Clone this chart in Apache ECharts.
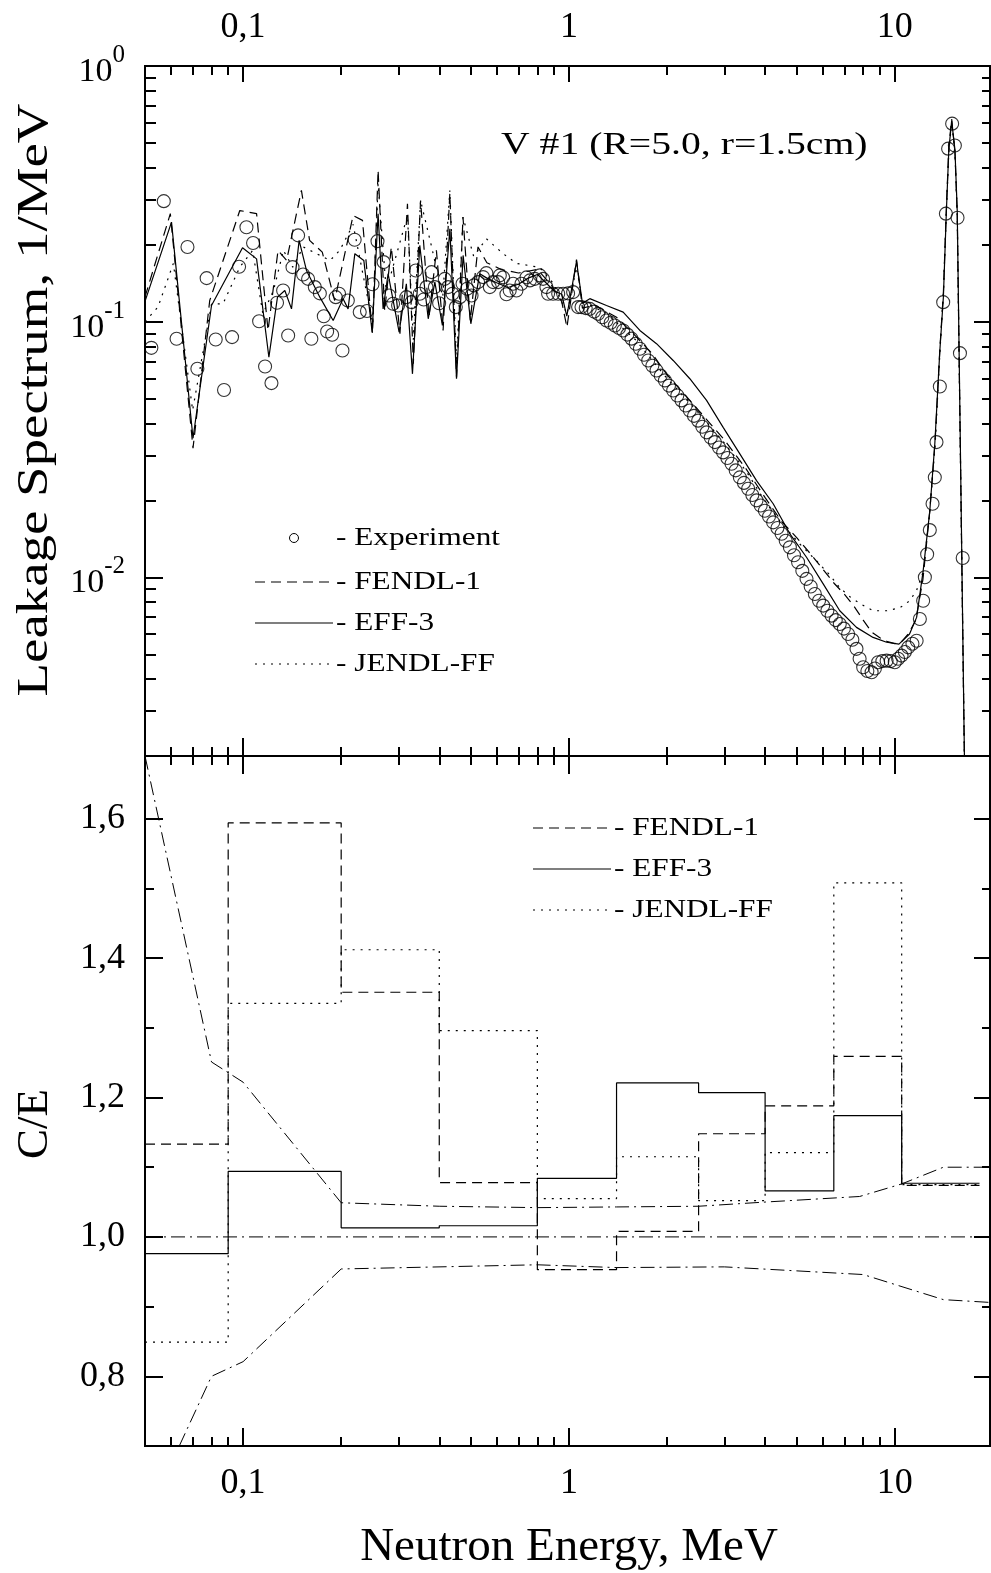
<!DOCTYPE html>
<html>
<head>
<meta charset="utf-8">
<script src="https://cdn.jsdelivr.net/npm/echarts@6/dist/echarts.min.js"></script>
<style>
html, body { margin: 0; padding: 0; background: #fff; }
#chart { width: 991px; height: 1573px; }
</style>
</head>
<body>
<div id="chart"></div>
<script>
// ---- top panel: leakage spectrum ----
var expE = [0.0523, 0.0571, 0.0625, 0.0675, 0.0724, 0.0773, 0.0824, 0.0874, 0.0925, 0.0972,
  0.1024, 0.1073, 0.112, 0.1168, 0.1222, 0.1271, 0.1327, 0.1375, 0.1418, 0.1475,
  0.1528, 0.1583, 0.162, 0.166, 0.172, 0.1769, 0.1811, 0.1876, 0.1925, 0.197,
  0.2018, 0.2096, 0.22, 0.228, 0.24, 0.2495, 0.2585, 0.27, 0.2806, 0.2886,
  0.299, 0.317, 0.3287, 0.3388, 0.3485, 0.3585, 0.3654, 0.3788, 0.3877, 0.3996,
  0.416, 0.4258, 0.4393, 0.4496, 0.4626, 0.4715, 0.487, 0.5025, 0.5107, 0.5263,
  0.545, 0.558, 0.5716, 0.5852, 0.6063, 0.6136, 0.628, 0.643, 0.658, 0.674,
  0.69, 0.715, 0.741, 0.759, 0.786, 0.814, 0.833, 0.853, 0.863, 0.894,
  0.927, 0.96, 0.994, 1.03, 1.067,
  1.093, 1.126, 1.159, 1.194, 1.229, 1.266, 1.304, 1.343, 1.383, 1.425,
  1.467, 1.511, 1.556, 1.603, 1.651, 1.70, 1.751, 1.803, 1.857, 1.913,
  1.97, 2.028, 2.089, 2.151, 2.216, 2.282, 2.35, 2.42, 2.492, 2.567,
  2.645, 2.724, 2.805, 2.888, 2.974, 3.063, 3.155, 3.249, 3.346, 3.445,
  3.548, 3.655, 3.765, 3.877, 3.993, 4.112, 4.235, 4.363, 4.494, 4.627,
  4.765, 4.906, 5.05, 5.203, 5.36, 5.52, 5.685, 5.855, 6.03, 6.21,
  6.40, 6.59, 6.78, 6.98, 7.19, 7.41, 7.63, 7.8, 8.0, 8.24,
  8.49, 8.69, 8.89, 9.16, 9.44, 9.72, 10.0, 10.24, 10.49, 10.74,
  11.0, 11.33, 11.67, 11.94, 12.22, 12.37, 12.57, 12.81, 13.06, 13.27,
  13.43, 13.75, 14.08, 14.35, 14.58, 15.0, 15.29, 15.58, 15.85, 16.16];
var expV = [0.079, 0.296, 0.0857, 0.196, 0.0654, 0.148, 0.0852, 0.054, 0.087, 0.164,
  0.234, 0.203, 0.1004, 0.0668, 0.0575, 0.1186, 0.1324, 0.0883, 0.1634, 0.2175,
  0.153, 0.147, 0.0857, 0.1365, 0.129, 0.105, 0.0915, 0.0889, 0.1247, 0.1286,
  0.0771, 0.121, 0.209, 0.109, 0.11, 0.14, 0.2065, 0.171, 0.1266, 0.1175,
  0.1157, 0.1247, 0.1192, 0.1586, 0.1286, 0.122, 0.1365, 0.1562, 0.1365, 0.118,
  0.147, 0.1365, 0.1286, 0.114, 0.1247, 0.1407, 0.1345, 0.1266, 0.1386, 0.1428,
  0.1494, 0.1548, 0.1365, 0.1428, 0.1428, 0.1517, 0.149, 0.128, 0.1324, 0.1407,
  0.1324, 0.1407, 0.149, 0.145, 0.147, 0.1517, 0.147, 0.1365, 0.1286, 0.1286,
  0.1286, 0.1286, 0.129, 0.1305, 0.114,
  0.114, 0.113, 0.1122, 0.1095, 0.1073, 0.104, 0.101, 0.099, 0.0966, 0.0945,
  0.0924, 0.089, 0.0858, 0.082, 0.0783, 0.0742, 0.0705, 0.0672, 0.0644, 0.0615,
  0.0589, 0.0562, 0.0538, 0.0514, 0.0492, 0.047, 0.0449, 0.0428, 0.041, 0.0388,
  0.0369, 0.0352, 0.0338, 0.0322, 0.0308, 0.0293, 0.0278, 0.0262, 0.0246, 0.0234,
  0.0222, 0.021, 0.020, 0.0191, 0.0182, 0.0173, 0.0164, 0.0156, 0.0148, 0.0139,
  0.0131, 0.0122, 0.01145, 0.0106, 0.00986, 0.0092, 0.0086, 0.0081, 0.00775, 0.0074,
  0.00708, 0.0068, 0.00657, 0.0063, 0.006, 0.0057, 0.00525, 0.0048, 0.00445, 0.0043,
  0.00425, 0.0044, 0.00465, 0.0047, 0.00472, 0.0047, 0.00465, 0.0048, 0.00494, 0.0051,
  0.00532, 0.0055, 0.00565, 0.00687, 0.0081, 0.01, 0.0123, 0.0153, 0.0194, 0.0246,
  0.0338, 0.0558, 0.1192, 0.2645, 0.475, 0.595, 0.489, 0.255, 0.0753, 0.0119];

var effE = [0.05, 0.0603, 0.0702, 0.08, 0.0996, 0.11, 0.12, 0.1275, 0.1343, 0.1408,
  0.1486, 0.1565, 0.172, 0.189, 0.2027, 0.21, 0.2203, 0.2347, 0.249, 0.2596,
  0.269, 0.2786, 0.3012, 0.317, 0.331, 0.3485, 0.370, 0.3877, 0.409, 0.4311,
  0.4518, 0.4734, 0.500, 0.5325, 0.56, 0.6, 0.65, 0.7, 0.75, 0.8,
  0.85, 0.9, 0.95, 0.985, 1.055, 1.1, 1.159, 1.304, 1.467, 1.651,
  1.857, 2.089, 2.35, 2.645, 2.974, 3.346, 3.765, 4.235, 4.765, 5.36,
  6.03, 6.78, 7.63, 8.58, 9.44, 10.3, 11.1, 11.67, 12.22, 12.81,
  13.27, 13.75, 14.1, 14.4, 14.65, 14.95, 15.3, 15.55, 15.9, 16.3, 16.45];
var effV = [0.12, 0.245, 0.035, 0.1157, 0.1946, 0.176, 0.0726, 0.1247, 0.1324, 0.1122,
  0.208, 0.1586, 0.1247, 0.101, 0.123, 0.1122, 0.1845, 0.1736, 0.091, 0.2645,
  0.1122, 0.154, 0.091, 0.1407, 0.0625, 0.1987, 0.1026, 0.1428, 0.0966, 0.231,
  0.0598, 0.1816, 0.0981, 0.154, 0.148, 0.142, 0.136, 0.14, 0.148, 0.153,
  0.142, 0.132, 0.128, 0.105, 0.172, 0.118, 0.123, 0.1157, 0.109, 0.0924,
  0.082, 0.0705, 0.0598, 0.0492, 0.0386, 0.0304, 0.0239, 0.0194, 0.0148, 0.01198,
  0.00942, 0.0074, 0.00637, 0.00582, 0.00557, 0.00548, 0.006, 0.00697, 0.0106, 0.0182,
  0.0333, 0.077, 0.125, 0.27, 0.47, 0.61, 0.47, 0.27, 0.032, 0.0028, 0.0012];

var fendlE = [0.05, 0.0598, 0.0702, 0.079, 0.0977, 0.11, 0.1193, 0.128, 0.136, 0.151,
  0.160, 0.175, 0.191, 0.2176, 0.2325, 0.2495, 0.2596, 0.272, 0.285, 0.303,
  0.3195, 0.333, 0.3505, 0.372, 0.392, 0.411, 0.431, 0.452, 0.473, 0.498,
  0.526, 0.56, 0.62, 0.7, 0.8, 0.88, 0.95, 0.986, 1.055, 1.1,
  1.2, 1.4, 1.6, 1.8, 2.0, 2.5, 3.0, 3.5, 4.0, 4.5,
  5.0, 5.5, 6.0, 6.5, 7.0, 7.5, 8.0, 8.5, 9.0, 9.5,
  10.0, 10.5, 11.0, 11.6, 12.2, 12.8, 13.3, 13.75, 14.1, 14.4,
  14.65, 14.95, 15.3, 15.55, 15.9, 16.3, 16.45];
var fendlV = [0.125, 0.2645, 0.032, 0.121, 0.272, 0.2645, 0.0924, 0.19, 0.1736, 0.326,
  0.208, 0.187, 0.121, 0.26, 0.249, 0.0897, 0.391, 0.11, 0.196, 0.0897,
  0.289, 0.0685, 0.298, 0.104, 0.19, 0.0924, 0.317, 0.0606, 0.2565, 0.101,
  0.196, 0.17, 0.16, 0.155, 0.16, 0.14, 0.12, 0.095, 0.175, 0.113,
  0.116, 0.104, 0.088, 0.075, 0.062, 0.045, 0.0345, 0.0265, 0.0205, 0.0165,
  0.0143, 0.0124, 0.0108, 0.0095, 0.0086, 0.0077, 0.0068, 0.0061, 0.0058, 0.0056,
  0.0055, 0.0056, 0.006, 0.0068, 0.0098, 0.018, 0.034, 0.078, 0.13, 0.28,
  0.48, 0.62, 0.46, 0.26, 0.03, 0.0027, 0.0012];

var jendlE = [0.05, 0.0548, 0.0611, 0.07, 0.08, 0.0868, 0.0977, 0.107, 0.115, 0.124,
  0.133, 0.142, 0.153, 0.168, 0.185, 0.198, 0.2176, 0.25, 0.2596, 0.275,
  0.3195, 0.333, 0.3505, 0.379, 0.41, 0.431, 0.452, 0.473, 0.51, 0.558,
  0.628, 0.69, 0.814, 0.9, 0.986, 1.055, 1.1, 1.3, 1.6, 2.0,
  2.5, 3.0, 3.5, 4.0, 4.5, 5.11, 5.75, 6.32, 6.78, 7.28,
  7.81, 8.59, 9.44, 10.37, 11.12, 11.67, 12.22, 12.8, 13.3, 13.75,
  14.1, 14.4, 14.65, 14.95, 15.3, 15.55, 15.9, 16.3, 16.45];
var jendlV = [0.1, 0.114, 0.169, 0.045, 0.117, 0.1175, 0.1634, 0.19, 0.1073, 0.1324,
  0.19, 0.1634, 0.196, 0.1845, 0.1736, 0.19, 0.24, 0.098, 0.346, 0.132,
  0.26, 0.085, 0.298, 0.196, 0.125, 0.326, 0.0685, 0.2565, 0.18, 0.211,
  0.1845, 0.169, 0.163, 0.14, 0.107, 0.163, 0.12, 0.108, 0.085, 0.06,
  0.044, 0.0335, 0.026, 0.0198, 0.0162, 0.0135, 0.0116, 0.0102, 0.0091, 0.0084,
  0.0079, 0.0074, 0.0074, 0.0076, 0.0081, 0.0089, 0.0105, 0.018, 0.033, 0.075,
  0.13, 0.27, 0.46, 0.6, 0.46, 0.26, 0.03, 0.0028, 0.0012];

// ---- bottom panel: C/E ratios in energy groups ----
var binEdges = [0.05, 0.09, 0.2, 0.4, 0.8, 1.4, 2.5, 4, 6.5, 10.5, 18.2];
var ceFendl = [1.133, 1.594, 1.351, 1.078, 0.953, 1.008, 1.148, 1.188, 1.259, 1.074];
var ceEff   = [0.976, 1.094, 1.013, 1.016, 1.084, 1.221, 1.207, 1.066, 1.174, 1.077];
var ceJendl = [0.849, 1.335, 1.412, 1.296, 1.055, 1.115, 1.052, 1.121, 1.508, 1.075];

var errHiE = [0.05, 0.08, 0.1, 0.2, 0.4, 0.8, 1.4, 2.5, 4, 7.8, 10.5, 14.1, 19.6];
var errHiV = [1.69, 1.251, 1.222, 1.049, 1.044, 1.042, 1.043, 1.044, 1.05, 1.058, 1.076, 1.1, 1.1];
var errLoE = [0.0637, 0.08, 0.1, 0.2, 0.8, 1.4, 3.0, 8.0, 14.1, 19.6];
var errLoV = [0.70, 0.8, 0.821, 0.954, 0.96, 0.956, 0.957, 0.946, 0.91, 0.906];
var unityE = [0.05, 19.6];
var unityV = [1.0, 1.0];

// ---- ticks ----
var xMajor = [0.1, 1, 10];
var xLabels = ['0,1', '1', '10'];
var xMinor = [0.06, 0.07, 0.08, 0.09, 0.2, 0.3, 0.4, 0.5, 0.6, 0.7, 0.8, 0.9, 2, 3, 4, 5, 6, 7, 8, 9];
var yTopMajor = [0.01, 0.1, 1];
var yTopExp = ['-2', '-1', '0'];
var yTopMinor = [0.003, 0.004, 0.005, 0.006, 0.007, 0.008, 0.009,
  0.02, 0.03, 0.04, 0.05, 0.06, 0.07, 0.08, 0.09,
  0.2, 0.3, 0.4, 0.5, 0.6, 0.7, 0.8, 0.9];
var yBotMajor = [0.8, 1.0, 1.2, 1.4, 1.6];
var yBotLabels = ['0,8', '1,0', '1,2', '1,4', '1,6'];
var yBotMinor = [0.9, 1.1, 1.3, 1.5];

var FONT = '"Liberation Serif", "Times New Roman", serif';

function pairs(xs, ys) {
    return xs.map(function (x, i) { return [x, ys[i]]; });
}
function steps(edges, vals) {
    var d = vals.map(function (v, i) { return [edges[i], v]; });
    d.push([edges[edges.length - 1], vals[vals.length - 1]]);
    return d;
}
function findIdx(list, v) {
    for (var i = 0; i < list.length; i++) {
        if (Math.abs(list[i] - v) < 1e-6 * Math.max(1, list[i])) return i;
    }
    return -1;
}

function xAx(grid, pos, ticks, len, label) {
    return {
        type: 'log', logBase: 10, gridIndex: grid, position: pos,
        min: 0.05, max: 19.6,
        axisLine: { show: true, onZero: false, lineStyle: { color: '#000', width: 2 } },
        axisTick: { show: true, inside: true, length: len, customValues: ticks,
            lineStyle: { color: '#000', width: 2 } },
        axisLabel: label ? {
            show: true, customValues: xMajor, margin: 20,
            fontFamily: FONT, fontSize: 36, color: '#000',
            formatter: function (v) { var i = findIdx(xMajor, v); return i >= 0 ? xLabels[i] : ''; }
        } : { show: false },
        splitLine: { show: false }
    };
}
function yTopAx(pos, ticks, len, label) {
    return {
        type: 'log', logBase: 10, gridIndex: 0, position: pos,
        min: 0.002, max: 1,
        axisLine: { show: true, onZero: false, lineStyle: { color: '#000', width: 2 } },
        axisTick: { show: true, inside: true, length: len, customValues: ticks,
            lineStyle: { color: '#000', width: 2 } },
        axisLabel: label ? {
            show: true, customValues: yTopMajor, margin: 20, color: '#000',
            formatter: function (v) {
                var i = findIdx(yTopMajor, v);
                return i >= 0 ? '{b|10}{s|' + yTopExp[i] + '}' : '';
            },
            rich: {
                b: { fontFamily: FONT, fontSize: 34, lineHeight: 46, verticalAlign: 'bottom', color: '#000' },
                s: { fontFamily: FONT, fontSize: 25, lineHeight: 32, verticalAlign: 'top', color: '#000' }
            }
        } : { show: false },
        splitLine: { show: false }
    };
}
function yBotAx(pos, ticks, len, label) {
    return {
        type: 'value', gridIndex: 1, position: pos,
        min: 0.7, max: 1.69,
        axisLine: { show: true, onZero: false, lineStyle: { color: '#000', width: 2 } },
        axisTick: { show: true, inside: true, length: len, customValues: ticks,
            lineStyle: { color: '#000', width: 2 } },
        axisLabel: label ? {
            show: true, customValues: yBotMajor, margin: 20,
            fontFamily: FONT, fontSize: 36, color: '#000',
            formatter: function (v) { var i = findIdx(yBotMajor, v); return i >= 0 ? yBotLabels[i] : ''; }
        } : { show: false },
        splitLine: { show: false }
    };
}

function curve(name, xi, yi, data, dash) {
    return {
        name: name, type: 'line', xAxisIndex: xi, yAxisIndex: yi,
        data: data, symbol: 'none', animation: false,
        lineStyle: { color: '#000', width: 1.2, type: dash }
    };
}
function histo(name, vals, dash) {
    var s = curve(name, 6, 4, steps(binEdges, vals), dash);
    s.step = 'end';
    return s;
}
function band(name, data) {
    var s = curve(name, 6, 4, data, [14, 5, 2, 5]);
    s.lineStyle.width = 1;
    return s;
}

var DASH = [10, 6], DOT = [2, 6];
var LEG_FONT = '25px ' + FONT;

function legText(x, y, txt) {
    return { type: 'text', x: x, y: y, scaleX: 1.25,
        style: { text: txt, font: LEG_FONT, fill: '#000', align: 'left', verticalAlign: 'middle',
                 textAlign: 'left', textVerticalAlign: 'middle' } };
}
function legLine(x1, x2, y, dash) {
    return { type: 'line', shape: { x1: x1, y1: y, x2: x2, y2: y },
        style: { stroke: '#000', lineWidth: 1.2, lineDash: dash || null } };
}

var chart = echarts.init(document.getElementById('chart'));
var option = {
    backgroundColor: '#fff',
    animation: false,
    grid: [
        { left: 145, top: 66, width: 845, height: 690 },
        { left: 145, top: 756, width: 845, height: 690 }
    ],
    xAxis: [
        xAx(0, 'top', xMajor, 16, true),
        xAx(0, 'top', xMinor, 9, false),
        xAx(0, 'bottom', xMajor, 18, false),
        xAx(0, 'bottom', xMinor, 9, false),
        xAx(1, 'top', xMajor, 18, false),
        xAx(1, 'top', xMinor, 9, false),
        xAx(1, 'bottom', xMajor, 18, true),
        xAx(1, 'bottom', xMinor, 9, false)
    ],
    yAxis: [
        yTopAx('left', yTopMajor, 18, true),
        yTopAx('left', yTopMinor, 11, false),
        yTopAx('right', yTopMajor, 16, false),
        yTopAx('right', yTopMinor, 8, false),
        yBotAx('left', yBotMajor, 18, true),
        yBotAx('left', yBotMinor, 9, false),
        yBotAx('right', yBotMajor, 16, false),
        yBotAx('right', yBotMinor, 8, false)
    ],
    series: [
        curve('FENDL-1', 0, 0, pairs(fendlE, fendlV), DASH),
        curve('EFF-3', 0, 0, pairs(effE, effV), 'solid'),
        curve('JENDL-FF', 0, 0, pairs(jendlE, jendlV), DOT),
        {
            name: 'Experiment', type: 'scatter', xAxisIndex: 0, yAxisIndex: 0,
            data: pairs(expE, expV), symbol: 'circle', symbolSize: 13, z: 5,
            itemStyle: { color: 'rgba(0,0,0,0)', borderColor: '#000', borderWidth: 1.1 }
        },
        histo('FENDL-1', ceFendl, DASH),
        histo('EFF-3', ceEff, 'solid'),
        histo('JENDL-FF', ceJendl, DOT),
        band('Exp. upper', pairs(errHiE, errHiV)),
        band('Exp. lower', pairs(errLoE, errLoV)),
        band('C/E = 1', pairs(unityE, unityV))
    ],
    graphic: [
        { type: 'text', x: 501, y: 146, scaleX: 1.28,
          style: { text: 'V #1 (R=5.0, r=1.5cm)', font: '31px ' + FONT, fill: '#000',
                   align: 'left', verticalAlign: 'middle', textAlign: 'left', textVerticalAlign: 'middle' } },
        { type: 'text', x: 35, y: 400, rotation: Math.PI / 2, scaleX: 1.22,
          style: { text: 'Leakage Spectrum, 1/MeV', font: '45px ' + FONT, fill: '#000',
                   align: 'center', verticalAlign: 'middle', textAlign: 'center', textVerticalAlign: 'middle' } },
        { type: 'text', x: 35, y: 1124, rotation: Math.PI / 2,
          style: { text: 'C/E', font: '45px ' + FONT, fill: '#000',
                   align: 'center', verticalAlign: 'middle', textAlign: 'center', textVerticalAlign: 'middle' } },
        { type: 'text', x: 569, y: 1548,
          style: { text: 'Neutron Energy, MeV', font: '47px ' + FONT, fill: '#000',
                   align: 'center', verticalAlign: 'middle', textAlign: 'center', textVerticalAlign: 'middle' } },
        // legend, upper panel
        { type: 'circle', shape: { cx: 294, cy: 538, r: 4.5 }, style: { fill: 'none', stroke: '#000', lineWidth: 1 } },
        legLine(255, 333, 582, DASH),
        legLine(255, 333, 623),
        legLine(255, 333, 664, DOT),
        legText(336, 538, '- Experiment'),
        legText(336, 582, '- FENDL-1'),
        legText(336, 623, '- EFF-3'),
        legText(336, 664, '- JENDL-FF'),
        // legend, lower panel
        legLine(533, 611, 828, DASH),
        legLine(533, 611, 869),
        legLine(533, 611, 910, DOT),
        legText(614, 828, '- FENDL-1'),
        legText(614, 869, '- EFF-3'),
        legText(614, 910, '- JENDL-FF')
    ]
};
chart.setOption(option);
</script>
</body>
</html>
